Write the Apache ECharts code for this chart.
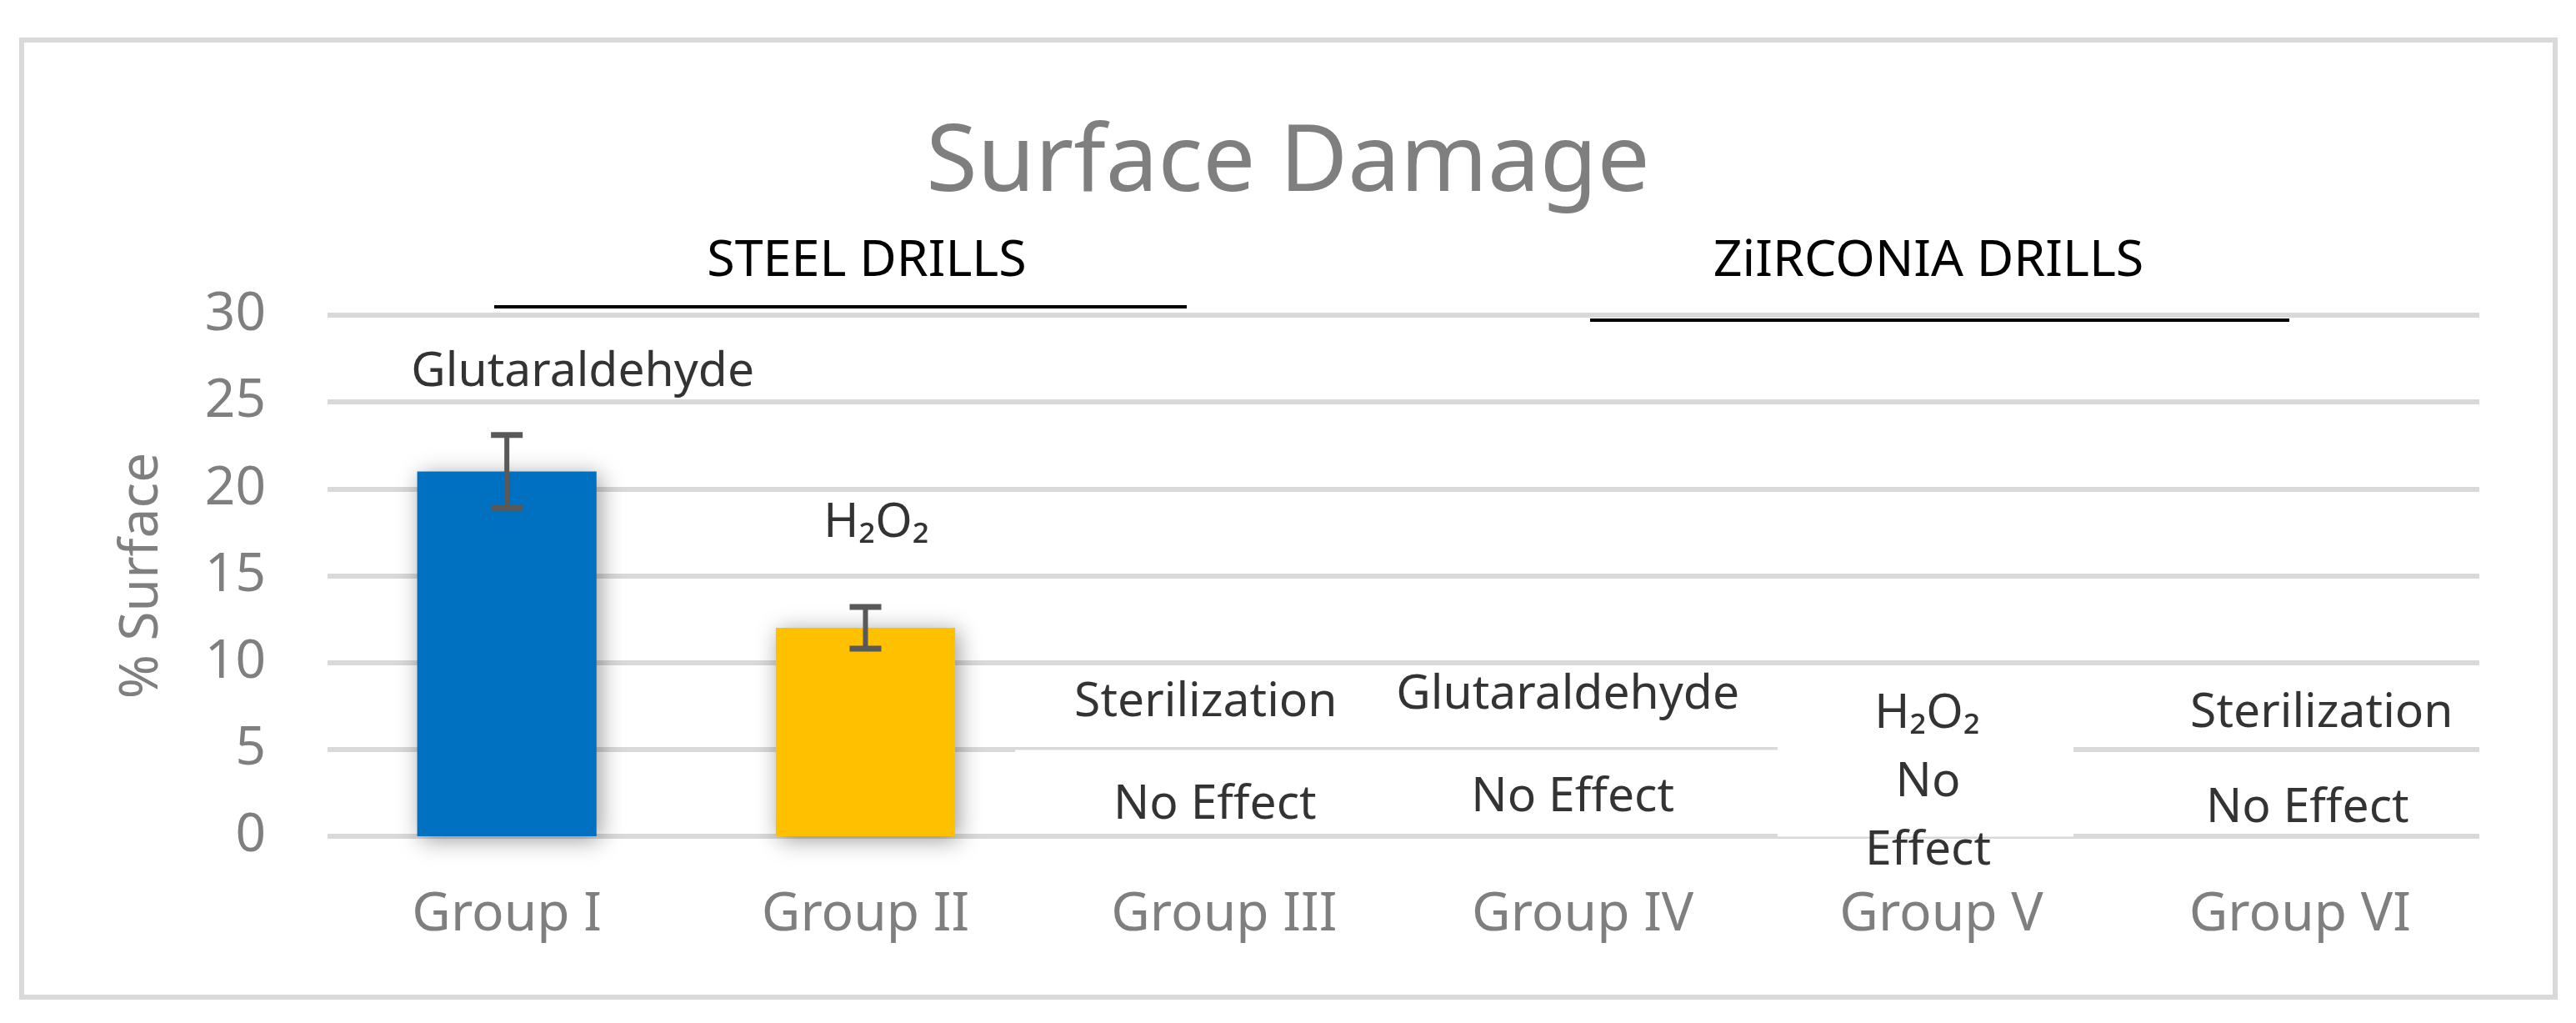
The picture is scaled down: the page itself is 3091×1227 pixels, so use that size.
<!DOCTYPE html>
<html>
<head>
<meta charset="utf-8">
<script src="https://cdn.jsdelivr.net/npm/echarts@6/dist/echarts.min.js"></script>
<style>
  html, body { margin: 0; padding: 0; background: #fff; }
  #chart { width: 3091px; height: 1227px; }
</style>
</head>
<body>
<div id="chart"></div>
<script>
// data
const groups = ['Group I', 'Group II', 'Group III', 'Group IV', 'Group V', 'Group VI'];
const surfaceDamage = [21, 12, 0, 0, 0, 0];
const damageError = [2.1, 1.2, 0, 0, 0, 0];
const barColors = ['#0070c0', '#ffc000', '#0070c0', '#0070c0', '#0070c0', '#0070c0'];
const yTicks = [0, 5, 10, 15, 20, 25, 30];

// treatment written over each group, and the "No Effect" notes
const treatments = ['Glutaraldehyde', 'H₂O₂', 'Sterilization', 'Glutaraldehyde', 'H₂O₂', 'Sterilization'];
const effects = ['', '', 'No Effect', 'No Effect', 'No\nEffect', 'No Effect'];

// where the notes sit (value units on y, pixel nudge on x)
const treatmentAt = [26.7, 18.0, 7.7, 8.1, 7.0, 7.05];
const treatmentShift = [91, 13, -22, -18, -17, 26];
const effectAt = [0, 0, 1.8, 2.2, 1.1, 1.6];
const effectShift = [0, 0, -11, -12, -16, 9];

const FONT = 'Noto Sans';
const GRAY = '#7f7f7f';
const GRID = '#d9d9d9';

const chart = echarts.init(document.getElementById('chart'));

const notes = [];
groups.forEach((g, i) => {
  notes.push({ value: [i, treatmentAt[i]], name: treatments[i], label: { offset: [treatmentShift[i], 0] } });
  if (effects[i]) {
    notes.push({ value: [i, effectAt[i]], name: effects[i], label: { offset: [effectShift[i], 0] } });
  }
});

const option = {
  animation: false,
  backgroundColor: '#fff',
  title: {
    text: 'Surface Damage',
    left: 'center',
    top: 136,
    textStyle: { fontFamily: FONT, fontSize: 112, fontWeight: 'normal', color: GRAY }
  },
  grid: { left: 393, right: 116, top: 378, bottom: 224 },
  xAxis: {
    type: 'category',
    data: groups,
    axisLine: { show: false },
    axisTick: { show: false },
    axisLabel: { fontFamily: FONT, fontSize: 64, color: GRAY, margin: 63 }
  },
  yAxis: {
    type: 'value',
    min: yTicks[0],
    max: yTicks[yTicks.length - 1],
    interval: 5,
    name: '% Surface',
    nameLocation: 'middle',
    nameGap: 190,
    nameTextStyle: { fontFamily: FONT, fontSize: 64, color: GRAY },
    axisLabel: { fontFamily: FONT, fontSize: 64, color: GRAY, margin: 74 },
    splitLine: { lineStyle: { color: GRID, width: 6 } }
  },
  graphic: [
    { type: 'rect', z: 0, shape: { x: 26, y: 48, width: 3040, height: 1148 },
      style: { fill: 'none', stroke: GRID, lineWidth: 6 } },
    // white text boxes lying over the gridlines
    { type: 'rect', z: 1, shape: { x: 1218, y: 899.5, width: 916, height: 98.5 }, style: { fill: '#fff' } },
    { type: 'rect', z: 1, shape: { x: 2133, y: 890, width: 355, height: 113.5 }, style: { fill: '#fff' } },
    { type: 'text', z: 5, x: 1040, y: 314,
      style: { text: 'STEEL DRILLS', fontFamily: FONT, fontSize: 61, fill: '#000', align: 'center', verticalAlign: 'middle' } },
    { type: 'line', z: 5, shape: { x1: 593, y1: 368, x2: 1424, y2: 368 }, style: { stroke: '#000', lineWidth: 4 } },
    { type: 'text', z: 5, x: 2314, y: 314,
      style: { text: 'ZiIRCONIA DRILLS', fontFamily: FONT, fontSize: 61, fill: '#000', align: 'center', verticalAlign: 'middle' } },
    { type: 'line', z: 5, shape: { x1: 1908, y1: 384, x2: 2747, y2: 384 }, style: { stroke: '#000', lineWidth: 4 } }
  ],
  series: [
    {
      type: 'bar',
      barWidth: '50%',
      z: 3,
      data: surfaceDamage.map((v, i) => ({
        value: v,
        itemStyle: {
          color: barColors[i],
          shadowBlur: 26,
          shadowColor: 'rgba(0,0,0,0.4)',
          shadowOffsetX: 4,
          shadowOffsetY: 4
        }
      }))
    },
    {
      type: 'custom',
      z: 4,
      data: groups.map((g, i) => [i, surfaceDamage[i], damageError[i]]),
      renderItem: function (params, api) {
        const e = api.value(2);
        if (!e) return null;
        const i = api.value(0), v = api.value(1);
        const hi = api.coord([i, v + e]);
        const lo = api.coord([i, v - e]);
        const half = 19;
        const st = { stroke: '#595959', lineWidth: 7 };
        return {
          type: 'group',
          children: [
            { type: 'line', shape: { x1: hi[0], y1: hi[1], x2: lo[0], y2: lo[1] }, style: { stroke: '#595959', lineWidth: 6 } },
            { type: 'line', shape: { x1: hi[0] - half, y1: hi[1], x2: hi[0] + half, y2: hi[1] }, style: st },
            { type: 'line', shape: { x1: lo[0] - half, y1: lo[1], x2: lo[0] + half, y2: lo[1] }, style: st }
          ]
        };
      }
    },
    {
      type: 'scatter',
      z: 6,
      silent: true,
      symbolSize: 1,
      itemStyle: { color: 'rgba(0,0,0,0)' },
      label: {
        show: true,
        position: 'inside',
        formatter: '{b}',
        fontFamily: FONT,
        fontSize: 57,
        lineHeight: 82,
        color: '#000'
      },
      data: notes
    }
  ]
};

chart.setOption(option);
</script>
</body>
</html>
